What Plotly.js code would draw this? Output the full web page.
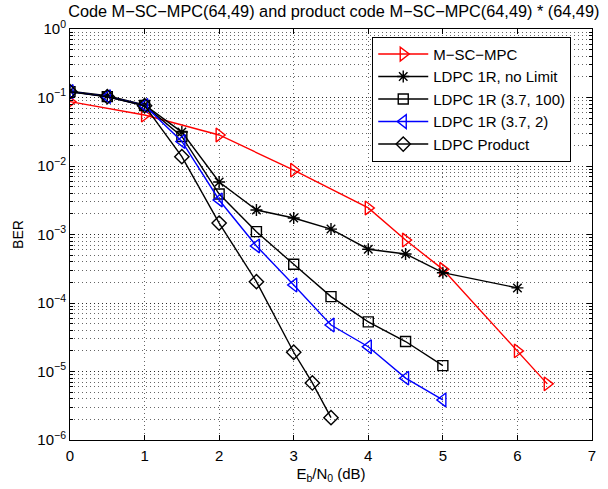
<!DOCTYPE html>
<html>
<head>
<meta charset="utf-8">
<script src="https://cdn.plot.ly/plotly-3.0.1.min.js"></script>
<style>html,body{margin:0;padding:0;background:#fff;}#chart{width:608px;height:489px;}</style>
</head>
<body>
<div id="chart"></div>
<script>
// ---- data ----
const mscX = [0, 1, 2, 3, 4, 4.5, 5, 6, 6.4];
const mscY = [0.087, 0.0555, 0.0284, 0.0087, 0.00244, 8.3e-4, 3.1e-4, 2.0e-5, 6.6e-6];

const noLimX = [0, 0.5, 1, 1.5, 2, 2.5, 3, 3.5, 4, 4.5, 5, 6];
const noLimY = [0.124, 0.106, 0.0778, 0.0313, 0.00584, 0.00228, 0.00174, 0.0012, 6.1e-4, 5.2e-4, 2.77e-4, 1.66e-4];

const r100X = [0, 0.5, 1, 1.5, 2, 2.5, 3, 3.5, 4, 4.5, 5];
const r100Y = [0.122, 0.103, 0.0765, 0.027, 0.0039, 0.0011, 3.67e-4, 1.24e-4, 5.3e-5, 2.74e-5, 1.22e-5];

const r2X = [0, 0.5, 1, 1.5, 2, 2.5, 3, 3.5, 4, 4.5, 5];
const r2Y = [0.122, 0.103, 0.0765, 0.0228, 0.00319, 6.8e-4, 1.83e-4, 4.77e-5, 2.3e-5, 8.0e-6, 3.84e-6];

const prodX = [0, 0.5, 1, 1.5, 2, 2.5, 3, 3.25, 3.5];
const prodY = [0.1215, 0.1027, 0.0759, 0.01367, 0.00147, 2.05e-4, 1.91e-5, 6.8e-6, 2.12e-6];

const seriesNames = ['M\u2212SC\u2212MPC', 'LDPC 1R, no Limit', 'LDPC 1R (3.7, 100)', 'LDPC 1R (3.7, 2)', 'LDPC Product'];

const yTickVals = [1, 0.1, 0.01, 0.001, 1e-4, 1e-5, 1e-6];
const yTickText = ['10<sup>0</sup>', '10<sup>\u22121</sup>', '10<sup>\u22122</sup>', '10<sup>\u22123</sup>', '10<sup>\u22124</sup>', '10<sup>\u22125</sup>', '10<sup>\u22126</sup>'];
const xTickVals = [0, 1, 2, 3, 4, 5, 6, 7];

const FONT = 'Liberation Sans, Arial, Helvetica, sans-serif';

function tr(x, y, name, color, symbol, size) {
  return {
    x: x, y: y, name: name, type: 'scatter', mode: 'lines+markers',
    line: {color: color, width: 1.4},
    marker: {symbol: symbol, size: size, color: color, line: {color: color, width: 1.4}}
  };
}

const data = [
  tr(mscX, mscY, seriesNames[0], '#ff0000', 'triangle-right-open', 12),
  tr(noLimX, noLimY, seriesNames[1], '#000000', 'asterisk-open', 10),
  tr(r100X, r100Y, seriesNames[2], '#000000', 'square-open', 10),
  tr(r2X, r2Y, seriesNames[3], '#0000ff', 'triangle-left-open', 12),
  tr(prodX, prodY, seriesNames[4], '#000000', 'diamond-open', 11)
];

const gridCol = 'rgba(0,0,0,0.6)';
const gridDash = '1px,3px';

const layout = {
  width: 608, height: 489,
  margin: {l: 70, r: 16, t: 29, b: 49},
  paper_bgcolor: '#fff', plot_bgcolor: '#fff',
  font: {family: FONT, size: 14, color: '#000'},
  title: {text: 'Code M\u2212SC\u2212MPC(64,49) and product code M\u2212SC\u2212MPC(64,49) * (64,49)',
          x: 0.549, xanchor: 'center', y: 0.976, yanchor: 'middle', font: {size: 16.3, family: FONT}},
  xaxis: {
    range: [0, 7], tickvals: xTickVals, ticks: 'inside', ticklen: 5, tickcolor: '#000',
    showline: true, linecolor: '#000', linewidth: 1, mirror: 'allticks',
    showgrid: true, gridcolor: gridCol, griddash: gridDash, gridwidth: 1, zeroline: false,
    tickfont: {size: 15}, ticklabelstandoff: 2,
    title: {text: 'E<sub>b</sub>/N<sub>0</sub> (dB)', font: {size: 15}, standoff: 5}
  },
  yaxis: {
    type: 'log', range: [-6, 0], tickvals: yTickVals, ticktext: yTickText,
    ticks: 'inside', ticklen: 5, tickcolor: '#000',
    showline: true, linecolor: '#000', linewidth: 1, mirror: 'allticks',
    showgrid: true, gridcolor: gridCol, griddash: gridDash, gridwidth: 1, zeroline: false,
    tickfont: {size: 15},
    minor: {dtick: 'D1', ticks: 'inside', ticklen: 3, tickcolor: '#000', showgrid: true, gridcolor: gridCol, griddash: gridDash, gridwidth: 1},
    title: {text: 'BER', font: {size: 14}, standoff: 10}
  },
  legend: {
    x: 0.579, xanchor: 'left', y: 0.981, yanchor: 'top',
    bgcolor: '#fff', bordercolor: '#000', borderwidth: 1,
    font: {size: 15, family: FONT}, itemwidth: 50, tracegroupgap: 0
  },
  showlegend: true
};

Plotly.newPlot('chart', data, layout, {displayModeBar: false, staticPlot: true});
</script>
</body>
</html>
